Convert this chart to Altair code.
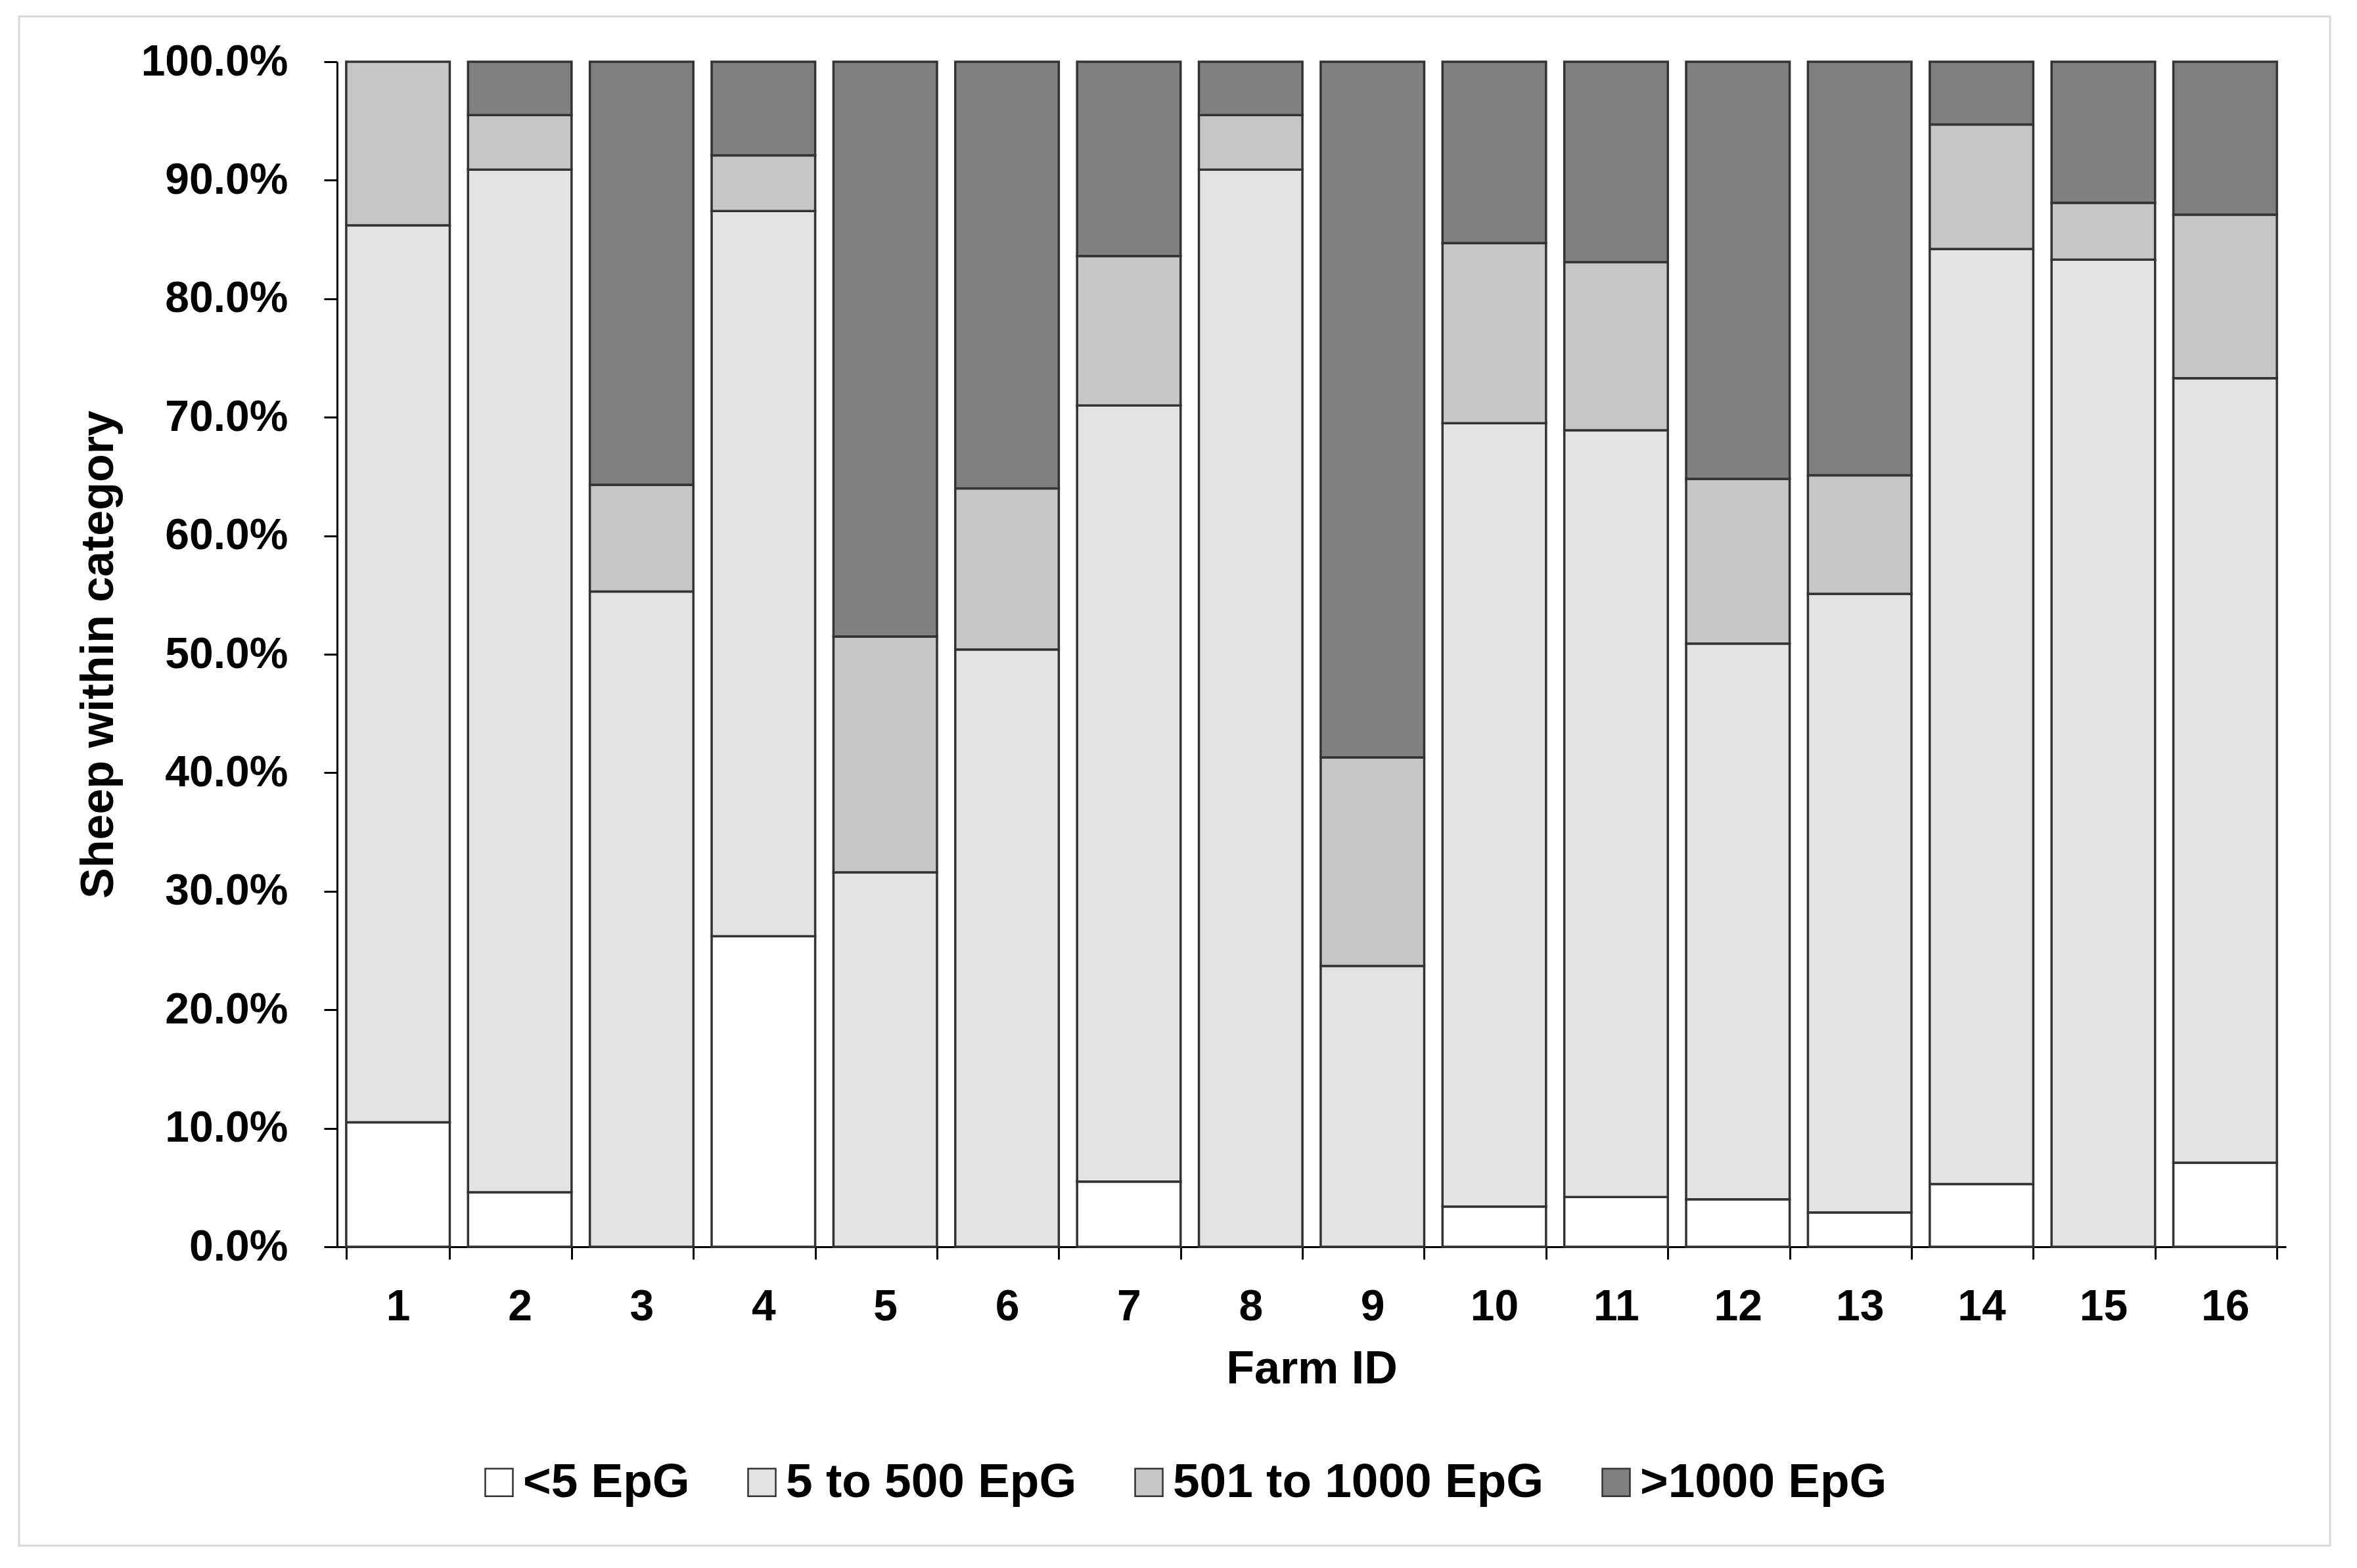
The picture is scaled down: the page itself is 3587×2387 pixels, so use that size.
import altair as alt
import pandas as pd

# ---- data (percent of sheep per EpG class) ----
farms = list(range(1, 17))
categories = ["<5 EpG", "5 to 500 EpG", "501 to 1000 EpG", ">1000 EpG"]
pct_lt5 = [10.5, 4.6, 0.0, 26.2, 0.0, 0.0, 5.5, 0.0, 0.0, 3.4, 4.2, 4.0, 2.9, 5.3, 0.0, 7.1]
pct_5_500 = [75.7, 86.3, 55.3, 61.2, 31.6, 50.4, 65.5, 90.9, 23.7, 66.1, 64.7, 46.9, 52.2, 78.9, 83.3, 66.2]
pct_501_1000 = [13.8, 4.6, 9.0, 4.7, 19.9, 13.6, 12.6, 4.6, 17.6, 15.2, 14.2, 13.9, 10.0, 10.5, 4.8, 13.8]
pct_gt1000 = [0.0, 4.5, 35.7, 7.9, 48.5, 36.0, 16.4, 4.5, 58.7, 15.3, 16.9, 35.2, 34.9, 5.3, 11.9, 12.9]
y_tick_values = [0.0, 0.1, 0.2, 0.3, 0.4, 0.5, 0.6, 0.7, 0.8, 0.9, 1.0]

# ---- styles ----
fills = ["#ffffff", "#e3e3e3", "#c6c6c6", "#808080"]
FONT = "Liberation Sans"

rows = []
for idx, (cat, vals) in enumerate(zip(categories, [pct_lt5, pct_5_500, pct_501_1000, pct_gt1000])):
    for f, v in zip(farms, vals):
        rows.append({"farm": f, "category": cat, "order": idx, "value": v})
df = pd.DataFrame(rows)

W, H = 2966, 1804
PAD_L, PAD_T = 505, 86
PAD_R = 3571 - PAD_L - W
PAD_B = 2371 - PAD_T - H

frame = alt.Chart(alt.Data(values=[{"k": 1}])).mark_rect(
    fillOpacity=0, stroke="#d9d9d9", strokeWidth=3
).encode(
    x=alt.value(29 - 513), x2=alt.value(3546 - 513),
    y=alt.value(25 - 94), y2=alt.value(2353 - 94),
)

bars = alt.Chart(df).transform_filter("datum.value > 0").mark_bar(
    stroke="#333333", strokeWidth=3.5
).encode(
    x=alt.X(
        "farm:O",
        title="Farm ID",
        scale=alt.Scale(paddingInner=0.15, paddingOuter=0.075),
        axis=alt.Axis(
            labelAngle=0, tickBand="extent", tickSize=19, labelPadding=40,
            titleY=152,
        ),
    ),
    y=alt.Y(
        "value:Q",
        stack="normalize",
        title="Sheep within category",
        scale=alt.Scale(domain=[0, 1], nice=False),
        axis=alt.Axis(
            values=y_tick_values,
            labelExpr="format(datum.value * 100, '.1f') + '%'",
            tickSize=20, labelPadding=55,
            grid=False, titleX=-327, titleAngle=270, titleBaseline="bottom",
        ),
    ),
    fill=alt.Fill(
        "category:N",
        scale=alt.Scale(domain=categories, range=fills),
        legend=alt.Legend(
            title=None, orient="none", legendX=210, legendY=2126,
            direction="horizontal", columns=4, columnPadding=73,
            symbolType="square", symbolSize=1764, symbolStrokeColor="#333333",
            symbolStrokeWidth=2.5, labelOffset=0, labelFontSize=73,
            labelFont=FONT, labelFontWeight="bold", labelColor="#000000",
            labelLimit=1000, padding=0,
        ),
    ),
    order=alt.Order("order:Q", sort="ascending"),
)

chart = alt.layer(frame, bars).properties(
    width=W,
    height=H,
    padding={"left": PAD_L, "top": PAD_T, "right": PAD_R, "bottom": PAD_B},
    autosize=alt.AutoSizeParams(type="none"),
    background="#ffffff",
).configure_view(stroke=None).configure_axis(
    domainColor="#000000", domainWidth=3, tickColor="#000000", tickWidth=3,
    labelFont=FONT, labelFontWeight="bold", labelFontSize=66, labelColor="#000000",
    labelLimit=1000,
    titleFont=FONT, titleFontWeight="bold", titleFontSize=70, titleColor="#000000",
)

chart.save("out.html", embed_options={"renderer": "svg", "actions": False})
